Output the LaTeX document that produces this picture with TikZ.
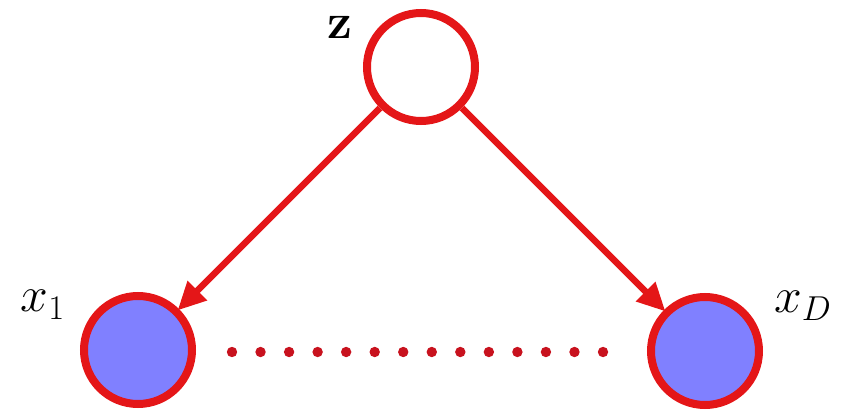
\documentclass[tikz,border=0pt]{standalone}
\usetikzlibrary{arrows.meta}
\definecolor{nodered}{RGB}{228,22,24}
\definecolor{dotred}{RGB}{200,18,30}
\definecolor{obsblue}{RGB}{128,128,255}
\tikzset{
  latent/.style={circle,draw=nodered,line width=4pt,fill=white,minimum size=54pt,inner sep=0pt},
  observed/.style={latent,fill=obsblue},
  edge/.style={draw=nodered,line width=3.2pt,-{Triangle[length=14pt,width=13pt]},shorten >=-1pt},
  lbl/.style={inner sep=0pt,font=\fontsize{27}{31}\selectfont}
}
\begin{document}
\begin{tikzpicture}[x=0.5pt,y=-0.5pt]
\useasboundingbox (0,0) rectangle (842,412);
\node[latent] (z) at (421,67) {};
\node[observed] (x1) at (138,350) {};
\node[observed] (xD) at (705,351) {};
\node[lbl] (zl) at (340,27) {$\mathbf{z}$};
\node[lbl] (x1l) at (43,305) {$x_1$};
\node[lbl] (xDl) at (803,306) {$x_D$};
\draw[edge] (z) -- (x1);
\draw[edge] (z) -- (xD);
\foreach \i in {0,...,13}{
  \fill[dotred] ({232+28.54*\i},352) circle (2.6pt);
}
\end{tikzpicture}
\end{document}
